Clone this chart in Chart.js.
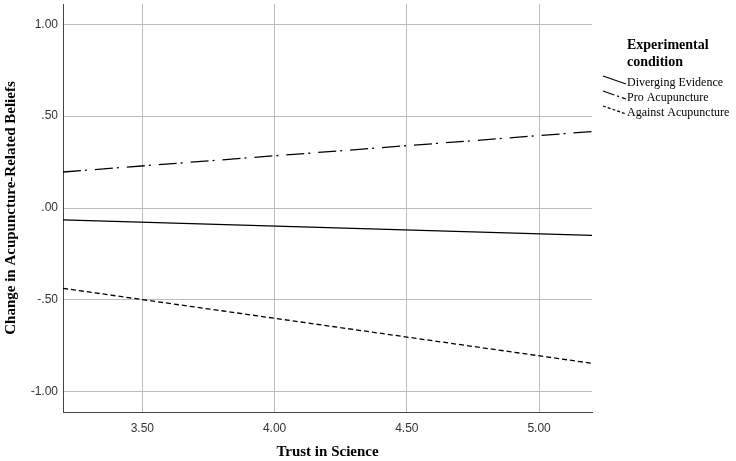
<!DOCTYPE html>
<html>
<head>
<meta charset="utf-8">
<script src="https://cdn.jsdelivr.net/npm/chart.js@4/dist/chart.umd.min.js"></script>
<style>
  html, body { margin: 0; padding: 0; background: #fff; }
  #wrap { width: 736px; height: 461px; }
</style>
</head>
<body>
<div id="wrap"><canvas id="chart" width="736" height="461"></canvas></div>
<script>
// data
const trustLevels = [3.2, 5.2];
const divergingValues = [-0.065, -0.149];
const proValues = [0.196, 0.416];
const againstValues = [-0.437, -0.845];
const conditionNames = ['Diverging Evidence', 'Pro Acupuncture', 'Against Acupuncture'];
const xTicks = [3.5, 4.0, 4.5, 5.0];
const yTicks = [-1.0, -0.5, 0.0, 0.5, 1.0];

const serif = '"Liberation Serif", "Times New Roman", serif';
const sans = '"Liberation Sans", Arial, sans-serif';

function pts(vals) {
  return trustLevels.map((x, i) => ({ x: x, y: vals[i] }));
}

// legend on the right, like SPSS: bold title + slanted line samples
const sideLegend = {
  id: 'sideLegend',
  afterDraw(chart) {
    const ctx = chart.ctx;
    ctx.save();
    ctx.fillStyle = '#000';
    ctx.textBaseline = 'middle';
    ctx.textAlign = 'left';
    ctx.font = 'bold 14px ' + serif;
    ctx.fillText('Experimental', 627, 45);
    ctx.fillText('condition', 627, 62);
    ctx.font = '12px ' + serif;
    chart.data.datasets.forEach((ds, i) => {
      const y = 83 + i * 15;
      ctx.strokeStyle = '#000';
      ctx.lineWidth = 1.2;
      ctx.setLineDash(ds.legendDash || []);
      ctx.beginPath();
      ctx.moveTo(603, y - 7);
      ctx.lineTo(626, y + 1);
      ctx.stroke();
      ctx.setLineDash([]);
      ctx.fillText(ds.label, 627, y);
    });
    ctx.restore();
  }
};

const ctx = document.getElementById('chart').getContext('2d');
new Chart(ctx, {
  type: 'line',
  data: {
    datasets: [
      { label: conditionNames[0], data: pts(divergingValues), borderDash: [], legendDash: [] },
      { label: conditionNames[1], data: pts(proValues), borderDash: [18, 4, 2, 8], legendDash: [12, 3, 2, 3] },
      { label: conditionNames[2], data: pts(againstValues), borderDash: [5, 3], legendDash: [3, 2] }
    ].map(d => Object.assign(d, {
      borderColor: '#000',
      backgroundColor: '#000',
      borderWidth: 1.3,
      pointRadius: 0,
      tension: 0,
      fill: false
    }))
  },
  options: {
    responsive: false,
    animation: false,
    layout: { padding: { top: 4, right: 144, left: 0, bottom: 0 } },
    plugins: {
      legend: { display: false },
      tooltip: { enabled: false }
    },
    scales: {
      x: {
        type: 'linear',
        min: 3.2,
        max: 5.2,
        afterBuildTicks: s => { s.ticks = xTicks.map(v => ({ value: v })); },
        afterFit: s => { s.height = 49; s.paddingLeft = 0; s.paddingRight = 0; },
        ticks: {
          padding: 9,
          color: '#333',
          font: { family: sans, size: 12 },
          callback: v => v.toFixed(2)
        },
        grid: { color: '#bdbdbd', lineWidth: 1, drawTicks: false },
        border: { display: true, color: '#444', width: 1 },
        title: {
          display: true,
          text: 'Trust in Science',
          color: '#000',
          font: { family: serif, size: 15, weight: 'bold' },
          padding: { top: 0, bottom: 0 }
        }
      },
      y: {
        min: -1.11,
        max: 1.11,
        afterBuildTicks: s => { s.ticks = yTicks.map(v => ({ value: v })); },
        afterFit: s => { s.width = 63; s.paddingTop = 0; s.paddingBottom = 0; },
        ticks: {
          padding: 5,
          color: '#333',
          font: { family: sans, size: 12 },
          callback: v => v.toFixed(2).replace(/^(-?)0\./, '$1.')
        },
        grid: { color: '#bdbdbd', lineWidth: 1, drawTicks: false },
        border: { display: true, color: '#444', width: 1 },
        title: {
          display: true,
          text: 'Change in Acupuncture-Related Beliefs',
          color: '#000',
          font: { family: serif, size: 15, weight: 'bold' },
          padding: { top: 2, bottom: 0 }
        }
      }
    }
  },
  plugins: [sideLegend]
});
</script>
</body>
</html>
